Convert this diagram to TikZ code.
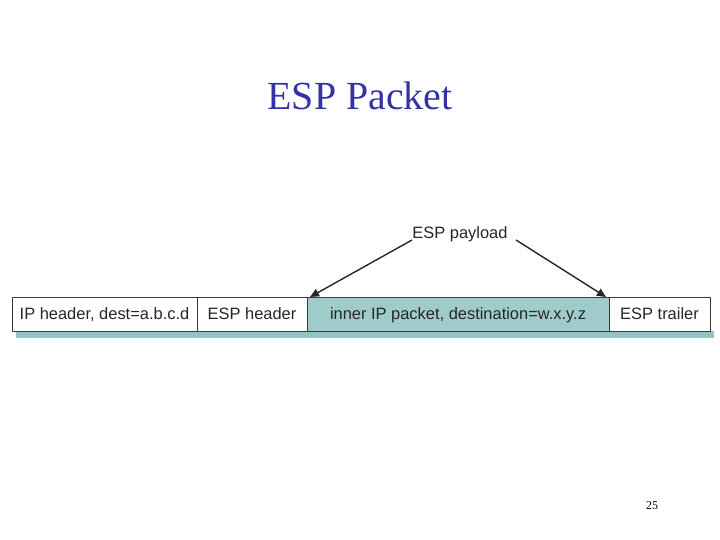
\documentclass[tikz,border=0pt]{standalone}
\usepackage{fontspec}
\setmainfont{Liberation Serif}
\newfontfamily\boxfont{Liberation Sans}
\usetikzlibrary{arrows.meta}
\definecolor{titleblue}{HTML}{3333A8}
\definecolor{tealfill}{HTML}{9FCBCB}
\definecolor{tealshadow}{HTML}{93C3C3}
\definecolor{boxline}{HTML}{3A3A3A}
\definecolor{txt}{HTML}{262626}
\tikzset{
  field/.style={draw=boxline, line width=0.9bp, minimum height=34bp, anchor=west,
    inner sep=0pt, outer sep=0pt, text height=12bp, text depth=0.5bp,
    font=\boxfont\fontsize{16.5}{18}\selectfont, text=txt},
  payarrow/.style={draw=txt, line width=1.4bp, -{Triangle[length=9bp,width=8bp]}},
}
\begin{document}
\begin{tikzpicture}[x=1bp,y=-1bp]
\useasboundingbox (0,0) rectangle (720,540);
\node[font=\fontsize{40}{44}\selectfont, text=titleblue] (title) at (360,96) {ESP Packet};
% shadow
\fill[tealshadow] (16,331) rectangle (714,337.5);
\node[field, fill=white, minimum width=185bp] (iph) at (12,314) {IP header, dest=a.b.c.d};
\node[field, fill=white, minimum width=110bp] (esph) at (iph.east) {ESP header};
\node[field, fill=tealfill, minimum width=302bp] (inner) at (esph.east) {inner IP packet, destination=w.x.y.z};
\node[field, fill=white, minimum width=101bp] (trail) at (inner.east) {ESP trailer};
\node[font=\boxfont\fontsize{16.5}{18}\selectfont, text=txt, inner sep=1pt] (pay) at (460,234.5) {ESP payload};
\coordinate (ls) at (412,240);
\coordinate (rs) at (516,240);
\coordinate (lt) at ([xshift=3bp]inner.north west);
\coordinate (rt) at ([xshift=-3bp]inner.north east);
\draw[payarrow] (ls) -- (lt);
\draw[payarrow] (rs) -- (rt);
\node[font=\fontsize{12}{14}\selectfont] (pg) at (652,506) {25};
\end{tikzpicture}
\end{document}
